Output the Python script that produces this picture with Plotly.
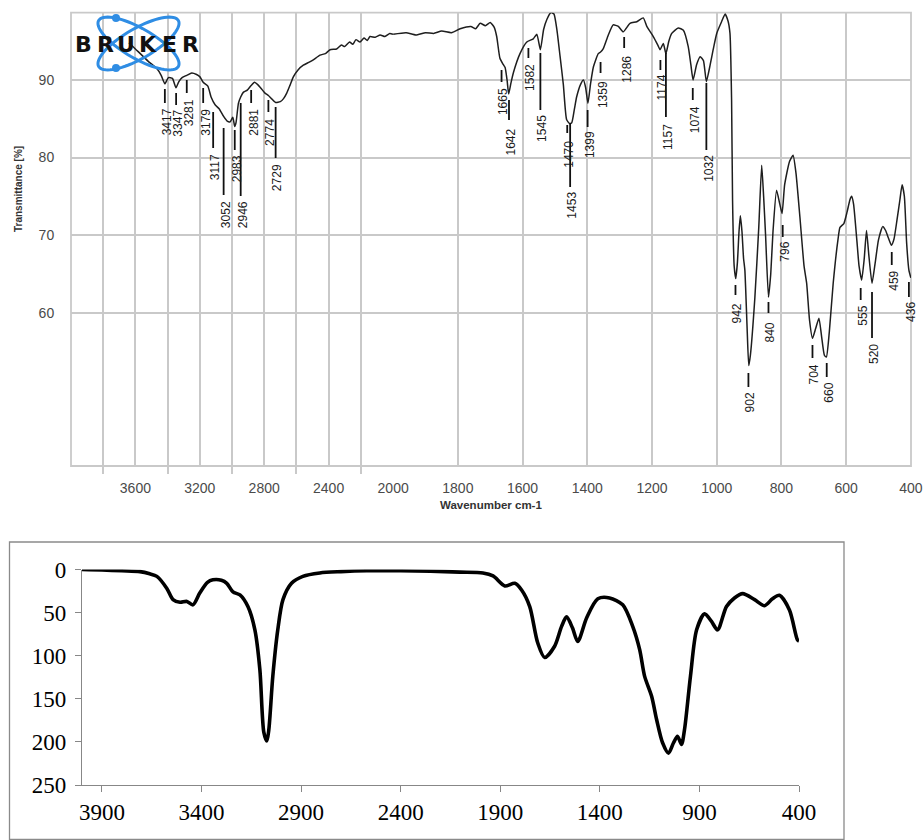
import math
import plotly.graph_objects as go

W, H = 923, 840

# ---------------- Data: top FT-IR spectrum (Bruker) ----------------
ir_wavenumber = [3640, 3600, 3520, 3468, 3440, 3417, 3395, 3370, 3348, 3330, 3310, 3281, 3250, 3220,
                 3199, 3179, 3150, 3130, 3105, 3080, 3052, 3030, 3012, 2995, 2983, 2975, 2960, 2946,
                 2930, 2905, 2881, 2860, 2840, 2815, 2795, 2774, 2755, 2729, 2700, 2680, 2660, 2640,
                 2619, 2590, 2557, 2520, 2495, 2453, 2420, 2391, 2350, 2320, 2300, 2270, 2250, 2230,
                 2205, 2180, 2160, 2143, 2110, 2080, 2050, 2020, 2000,
                 1960, 1930, 1900, 1875, 1850, 1820, 1793, 1760, 1745, 1731, 1715, 1700, 1688, 1680,
                 1670, 1660, 1654, 1648, 1643, 1636, 1628, 1608, 1587, 1567, 1556, 1545, 1535, 1525,
                 1512, 1503, 1494, 1484, 1474, 1464, 1455, 1448, 1440, 1433, 1420, 1412, 1405, 1398,
                 1390, 1381, 1366, 1359, 1351, 1335, 1320, 1304, 1289, 1268, 1247, 1227, 1216, 1196,
                 1182, 1175, 1165, 1157, 1148, 1139, 1119, 1103, 1088, 1080, 1073, 1062, 1051, 1041,
                 1032, 1020, 1011, 1000, 985, 974, 965, 959, 954, 951, 946, 941, 936, 931, 927, 922,
                 917, 913, 906, 901, 896, 882, 870, 861, 855, 849, 840, 833, 826, 815, 805, 798, 790,
                 775, 764, 755, 743, 730, 722, 713, 704, 694, 684, 676, 667, 661, 652, 640, 625, 619,
                 607, 597, 588, 583, 577, 567, 560, 552, 544, 537, 530, 520, 510, 500, 487, 478, 469,
                 460, 452, 443, 434, 427, 420, 413, 406, 400]
ir_transmittance = [94.8, 94.0, 92.4, 91.5, 90.6, 89.5, 90.3, 90.2, 89.0, 89.8, 90.3, 90.6, 90.9, 90.7,
                    90.4, 89.7, 89.2, 87.8, 86.8, 86.3, 85.3, 84.7, 84.6, 85.2, 84.0, 84.5, 87.0, 87.8,
                    88.4, 88.7, 89.3, 89.7, 89.4, 88.8, 88.3, 88.0, 87.6, 87.1, 87.2, 87.6, 88.3, 89.3,
                    90.4, 91.3, 91.9, 92.3, 92.6, 93.2, 93.4, 93.9, 94.0, 94.5, 94.3, 94.9, 94.6, 95.2,
                    94.9, 95.4, 95.1, 95.6, 95.5, 95.8, 95.6, 96.0, 95.9,
                    96.1, 95.8, 96.1, 96.0, 96.3, 96.1, 96.6, 96.9, 96.6, 97.3, 97.0, 97.4, 96.8, 95.6,
                    92.8, 92.0, 91.6, 90.0, 88.2, 89.6, 91.0, 93.4, 94.9, 95.3, 95.9, 93.9, 96.5, 97.8,
                    98.7, 98.5, 96.5, 93.0, 89.4, 84.9, 84.4, 84.5, 86.2, 87.8, 89.5, 90.0, 89.0, 87.0,
                    89.5, 91.7, 93.4, 93.6, 94.0, 95.8, 97.1, 96.9, 96.2, 97.3, 97.5, 98.0, 96.9, 95.6,
                    94.5, 93.9, 94.7, 93.4, 95.0, 96.0, 96.7, 96.4, 94.3, 92.0, 90.0, 92.0, 93.0, 92.5,
                    89.8, 92.0, 93.9, 96.0, 97.5, 98.5, 97.6, 96.0, 87.4, 74.5, 66.0, 64.4, 66.5, 70.5,
                    72.5, 70.5, 67.0, 65.5, 58.0, 53.2, 54.5, 62.0, 71.0, 79.0, 75.0, 70.0, 62.0, 65.0,
                    70.5, 75.8, 74.0, 72.8, 76.5, 79.5, 80.3, 78.0, 72.4, 66.0, 63.8, 59.0, 56.7, 58.0,
                    59.3, 57.0, 54.5, 54.3, 57.5, 63.8, 69.5, 71.0, 71.5, 73.0, 74.6, 75.0, 74.0, 69.4,
                    66.0, 64.2, 67.0, 70.6, 67.5, 63.8, 66.5, 69.4, 71.1, 70.6, 69.6, 68.7, 69.5, 71.9,
                    74.5, 76.5, 75.0, 69.0, 65.5, 64.5]

# peak labels of the top spectrum (text) and where they are drawn (wavenumber)
peak_text = ["3417", "3347", "3281", "3179", "3117", "3052", "2983", "2946", "2881", "2774", "2729",
             "1665", "1642", "1582", "1545", "1470", "1453", "1399", "1359", "1286", "1174", "1157",
             "1074", "1032", "942", "902", "840", "796", "704", "660", "555", "520", "459", "436"]
peak_wn = [3417, 3347, 3281, 3179, 3117, 3052, 2983, 2946, 2881, 2774, 2729,
           1665, 1642, 1582, 1545, 1462, 1453, 1399, 1359, 1286, 1174, 1157,
           1074, 1032, 942, 902, 840, 796, 704, 660, 555, 520, 459, 406]

top_left_ticks = [3600, 3200, 2800, 2400]
top_left_minor = [3800, 3400, 3000, 2600, 2200]
top_right_ticks = [2000, 1800, 1600, 1400, 1200, 1000, 800, 600, 400]
top_y_ticks = [60, 70, 80, 90]

# ---------------- Data: bottom simulated spectrum ----------------
sim_wavenumber = [4000, 3900, 3800, 3709, 3660, 3624, 3574, 3543, 3508, 3473, 3443, 3408, 3370, 3343,
                  3300, 3273, 3242, 3207, 3167, 3132, 3107, 3087, 3072, 3062, 3042, 3017, 2991, 2948,
                  2891, 2806, 2700, 2570, 2400, 2250, 2103, 1987, 1936, 1877, 1827, 1792, 1752, 1712,
                  1677, 1627, 1592, 1567, 1537, 1511, 1466, 1410, 1351, 1285, 1235, 1200, 1175, 1140,
                  1115, 1085, 1055, 1030, 1010, 990, 975, 945, 914, 874, 840, 809, 764, 724, 683, 623,
                  573, 533, 498, 448, 408, 400]
sim_intensity = [0, 0.5, 1.5, 2.5, 5, 8, 22, 35, 38, 37, 41, 27, 15, 12, 12.5, 16, 26, 29.5, 43, 70,
                 116, 189, 199, 186, 124, 70, 35, 16, 8, 4, 2.5, 1.5, 1.5, 2, 3, 4, 7.5, 19, 16, 24,
                 43, 85, 102, 89, 66, 55, 68, 83.5, 56, 34, 33, 41, 66, 93, 124, 147, 174, 201, 213,
                 201, 193.5, 203, 186, 124, 70, 51.5, 60, 70, 43, 33, 28, 35, 42, 34, 30, 47, 81.5, 83]
sim_x_ticks = [3900, 3400, 2900, 2400, 1900, 1400, 900, 400]
sim_y_ticks = [0, 50, 100, 150, 200, 250]


def px(x):
    return x / W


def py(y):
    return 1 - y / H


fig = go.Figure()

left_w = [w for w in ir_wavenumber if w >= 2000]
left_t = [t for w, t in zip(ir_wavenumber, ir_transmittance) if w >= 2000]
right_w = [w for w in ir_wavenumber if w <= 2000]
right_t = [t for w, t in zip(ir_wavenumber, ir_transmittance) if w <= 2000]

line_top = dict(color="#1e1e1e", width=1.5, shape="spline", smoothing=0.5)
fig.add_trace(go.Scatter(x=left_w, y=left_t, xaxis="x", yaxis="y", mode="lines",
                         line=line_top, showlegend=False, hoverinfo="skip"))
fig.add_trace(go.Scatter(x=right_w, y=right_t, xaxis="x2", yaxis="y", mode="lines",
                         line=line_top, showlegend=False, hoverinfo="skip"))
fig.add_trace(go.Scatter(x=sim_wavenumber, y=sim_intensity, xaxis="x3", yaxis="y2", mode="lines",
                         line=dict(color="black", width=3.6, shape="spline", smoothing=0.8),
                         showlegend=False, hoverinfo="skip"))

grid_c = "#c9c9c9"
tick_font = dict(family="Liberation Sans, Arial", size=14, color="#4a4a4a")
serif_font = dict(family="Liberation Serif, Times New Roman", size=23, color="black")

layout = dict(
    template="none",
    width=W, height=H, autosize=False,
    margin=dict(l=0, r=0, t=0, b=0, pad=0, autoexpand=False),
    paper_bgcolor="white", plot_bgcolor="rgba(0,0,0,0)",
    showlegend=False,
    xaxis=dict(domain=[px(71), px(393)], range=[4000, 2000], anchor="y", automargin=False,
               tickvals=top_left_ticks, ticktext=[str(v) for v in top_left_ticks],
               ticks="outside", ticklen=9, tickcolor="rgba(0,0,0,0)",
               showgrid=True, gridcolor=grid_c, gridwidth=1.6, zeroline=False, showline=False,
               tickfont=tick_font,
               minor=dict(tickvals=top_left_minor, ticks="outside", ticklen=7, tickcolor=grid_c,
                          tickwidth=1.6, showgrid=True, gridcolor=grid_c, gridwidth=1.6)),
    xaxis2=dict(domain=[px(393), px(911)], range=[2000.5, 399.5], anchor="y", automargin=False,
                tickvals=top_right_ticks, ticktext=[str(v) for v in top_right_ticks],
                ticks="outside", ticklen=9, tickcolor="rgba(0,0,0,0)",
                showgrid=True, gridcolor=grid_c, gridwidth=1.6, zeroline=False, showline=False,
                tickfont=tick_font),
    yaxis=dict(domain=[py(466), py(12.7)], range=[40.25, 98.67], anchor="x", automargin=False,
               tickvals=top_y_ticks, ticktext=[str(v) for v in top_y_ticks],
               ticks="outside", ticklen=13, tickcolor="rgba(0,0,0,0)",
               showgrid=True, gridcolor=grid_c, gridwidth=1.6, zeroline=False, showline=False,
               tickfont=tick_font),
    xaxis3=dict(domain=[px(82), px(799)], range=[4000, 400], anchor="y2", automargin=False,
                tickvals=sim_x_ticks, ticktext=[str(v) for v in sim_x_ticks],
                ticks="outside", ticklen=6, tickcolor="#878787", tickwidth=1.3,
                showline=True, linecolor="#878787", linewidth=1.3,
                showgrid=False, zeroline=False, tickfont=serif_font),
    yaxis2=dict(domain=[py(785), py(569.5)], range=[250, 0], anchor="x3", automargin=False,
                tickvals=sim_y_ticks, ticktext=[str(v) for v in sim_y_ticks],
                ticks="outside", ticklen=6, tickcolor="#878787", tickwidth=1.3,
                ticklabelstandoff=4,
                showline=True, linecolor="#878787", linewidth=1.3,
                showgrid=False, zeroline=False, tickfont=serif_font),
)
fig.update_layout(**layout)

shapes = []
annotations = []

# frame of the top plot
shapes.append(dict(type="rect", xref="paper", yref="paper", x0=px(71), x1=px(911), y0=py(466), y1=py(12.7),
                   line=dict(color=grid_c, width=1.8), layer="below"))
# frame of the bottom chart
shapes.append(dict(type="rect", xref="paper", yref="paper", x0=px(9.5), x1=px(844), y0=py(839.5), y1=py(542),
                   line=dict(color="#8a8a8a", width=1.3), layer="below"))

# peak label geometry (pixel rows): line top, line bottom, text top
label_geom = [(89, 103, 106), (93, 105, 108), (80, 93, 97), (88, 103, 107), (112, 148, 152),
              (128, 195, 199), (130, 150, 153), (103, 196, 199), (90, 103, 107), (100, 112, 117),
              (107, 158, 162),
              (70, 82, 86), (100, 120, 126), (48, 58, 62), (53, 110, 113), (125, 133, 139),
              (123, 187, 190), (110, 127, 129), (62, 73, 79), (37, 48, 54), (60, 70, 72),
              (53, 117, 122), (88, 100, 104), (83, 150, 153),
              (285, 295, 301), (373, 387, 390), (302, 313, 320), (225, 237, 240), (345, 358, 362),
              (363, 377, 381), (288, 300, 304), (292, 338, 342), (252, 265, 269), (282, 297, 300)]

for txt, wn, (y0, y1, yt) in zip(peak_text, peak_wn, label_geom):
    xr = "x" if wn > 2000 else "x2"
    shapes.append(dict(type="line", xref=xr, yref="paper", x0=wn, x1=wn, y0=py(y0), y1=py(y1),
                       line=dict(color="#111111", width=1.8)))
    annotations.append(dict(x=wn, y=py(yt), xref=xr, yref="paper", text=txt, showarrow=False,
                            textangle=-90, xanchor="center", yanchor="top", xshift=2,
                            font=dict(family="Liberation Sans, Arial", size=12, color="#1a1a1a")))

# axis titles of the top plot
annotations.append(dict(x=px(491), y=py(505), xref="paper", yref="paper", text="<b>Wavenumber cm-1</b>",
                        showarrow=False, xanchor="center", yanchor="middle",
                        font=dict(family="Liberation Sans, Arial", size=11.5, color="#333")))
annotations.append(dict(x=px(19), y=py(189), xref="paper", yref="paper", text="<b>Transmittance [%]</b>",
                        showarrow=False, textangle=-90, xanchor="center", yanchor="middle",
                        font=dict(family="Liberation Sans, Arial", size=10, color="#333")))


# Bruker logo: two tilted ellipses, two dots and the word
def ellipse_path(cx, cy, a, b, ang_deg, n=72):
    th = math.radians(ang_deg)
    pts = []
    for i in range(n + 1):
        t = 2 * math.pi * i / n
        x = cx + a * math.cos(t) * math.cos(th) - b * math.sin(t) * math.sin(th)
        y = cy + a * math.cos(t) * math.sin(th) + b * math.sin(t) * math.cos(th)
        pts.append((px(x), py(y)))
    return "M " + " L ".join(f"{x:.5f},{y:.5f}" for x, y in pts) + " Z"


logo_blue = "#2f8de4"
for ang in (30, -30):
    shapes.append(dict(type="path", xref="paper", yref="paper", path=ellipse_path(138.5, 43.5, 46, 15, ang),
                       line=dict(color=logo_blue, width=3)))
for (cx, cy) in ((116, 18), (116, 68)):
    shapes.append(dict(type="circle", xref="paper", yref="paper", x0=px(cx - 4), x1=px(cx + 4),
                       y0=py(cy + 4), y1=py(cy - 4), fillcolor=logo_blue, line=dict(width=0)))
for i, ch in enumerate("BRUKER"):
    annotations.append(dict(x=px(73 + 128 / 6 * (i + 0.5)), y=py(44), xref="paper", yref="paper",
                            text=f"<b>{ch}</b>", showarrow=False, xanchor="center", yanchor="middle",
                            font=dict(family="DejaVu Sans", size=22, color="#111")))

fig.update_layout(shapes=shapes, annotations=annotations)
fig.write_html("out.html")
